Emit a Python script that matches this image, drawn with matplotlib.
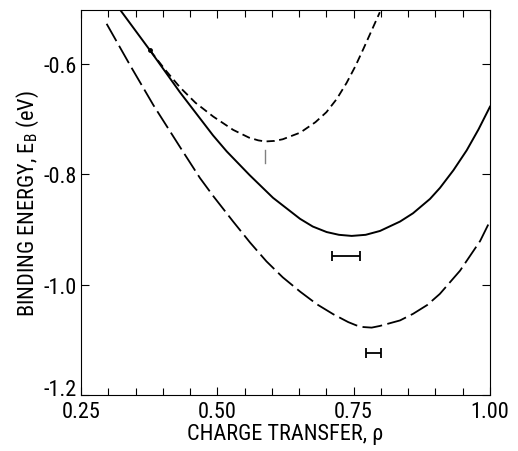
import matplotlib
matplotlib.use("Agg")
import matplotlib.pyplot as plt
from matplotlib.ticker import MultipleLocator, FixedLocator

plt.rcParams['font.family'] = ['Roboto Condensed', 'DejaVu Sans']
plt.rcParams['mathtext.fontset'] = 'custom'
plt.rcParams['mathtext.rm'] = 'Roboto Condensed'
plt.rcParams['mathtext.it'] = 'Roboto Condensed:italic'

# Solid curve
rho_solid = [0.322, 0.3765, 0.4315, 0.4921, 0.5172, 0.5593, 0.6021, 0.6516, 0.675, 0.7005, 0.723, 0.7464, 0.772, 0.7983, 0.835, 0.8588, 0.89, 0.9083, 0.933, 0.9573, 0.979, 1.0]
eb_solid = [-0.503, -0.576, -0.652, -0.730, -0.759, -0.802, -0.843, -0.881, -0.895, -0.905, -0.910, -0.912, -0.910, -0.903, -0.886, -0.871, -0.845, -0.825, -0.793, -0.757, -0.719, -0.678]

# Long-dashed curve (lower)
rho_long = [0.297, 0.34, 0.3826, 0.4315, 0.468, 0.4926, 0.529, 0.56, 0.59, 0.62, 0.652, 0.683, 0.713, 0.74, 0.755, 0.768, 0.783, 0.798, 0.835, 0.859, 0.885, 0.908, 0.945, 0.982, 1.0]
eb_long = [-0.528, -0.603, -0.675, -0.751, -0.807, -0.840, -0.886, -0.924, -0.958, -0.987, -1.013, -1.036, -1.054, -1.068, -1.074, -1.077, -1.078, -1.075, -1.065, -1.053, -1.037, -1.017, -0.975, -0.921, -0.885]

# Short-dashed curve (upper)
rho_short = [0.3765, 0.405, 0.4315, 0.46, 0.4926, 0.529, 0.558, 0.575, 0.588, 0.605, 0.62, 0.652, 0.68, 0.70, 0.719, 0.737, 0.753, 0.768, 0.783, 0.798]
eb_short = [-0.576, -0.612, -0.643, -0.671, -0.696, -0.720, -0.734, -0.739, -0.741, -0.740, -0.737, -0.725, -0.706, -0.688, -0.664, -0.635, -0.605, -0.573, -0.540, -0.507]

# Error bars (horizontal)
err_rho = [0.736, 0.786]
err_eb = [-0.948, -1.124]
err_xerr = [0.026, 0.014]

# Vertical mark below short-dashed minimum
mark_rho = 0.588
mark_eb = [-0.756, -0.780]

fig = plt.figure(figsize=(5.18, 4.52), dpi=100)
ax = fig.add_axes([81/518, 56/452, (490-81)/518, (396-11)/452])

ax.plot(rho_solid, eb_solid, color='black', lw=1.4)
ax.plot(rho_long, eb_long, color='black', lw=1.3, dashes=(11, 3))
ax.plot(rho_short, eb_short, color='black', lw=1.3, dashes=(4.5, 2.5))
ax.plot(rho_short[0], eb_short[0], 'o', color='black', ms=2.5)
ax.errorbar(err_rho, err_eb, xerr=err_xerr, fmt='none', ecolor='black', elinewidth=1.3, capsize=3.5, capthick=1.3)
ax.plot([mark_rho, mark_rho], mark_eb, color='gray', lw=1.0)

ax.set_xlim(0.25, 1.0)
ax.set_ylim(-1.2, -0.503)
ax.xaxis.set_major_locator(FixedLocator([0.25, 0.5, 0.75, 1.0]))
ax.set_xticklabels(['0.25', '0.50', '0.75', '1.00'])
ax.xaxis.set_minor_locator(MultipleLocator(0.05))
ax.yaxis.set_major_locator(FixedLocator([-1.2, -1.0, -0.8, -0.6]))
ax.set_yticklabels(['-1.2', '-1.0', '-0.8', '-0.6'])
ax.tick_params(which='both', direction='in', top=True, right=True, labelsize=16, width=0.8)
ax.tick_params(which='major', length=6)
ax.tick_params(axis='x', which='major', pad=4)
ax.tick_params(axis='y', which='major', pad=3)
ax.tick_params(which='minor', length=5)
for s in ax.spines.values():
    s.set_linewidth(0.8)

ax.get_yticklabels()[0].set_va('baseline')

ax.set_xlabel('CHARGE TRANSFER, ρ', fontsize=16, labelpad=1)
ax.set_ylabel('BINDING ENERGY, E$_\\mathregular{B}$ (eV)', fontsize=16, labelpad=2)

fig.savefig('out.png', dpi=100)
